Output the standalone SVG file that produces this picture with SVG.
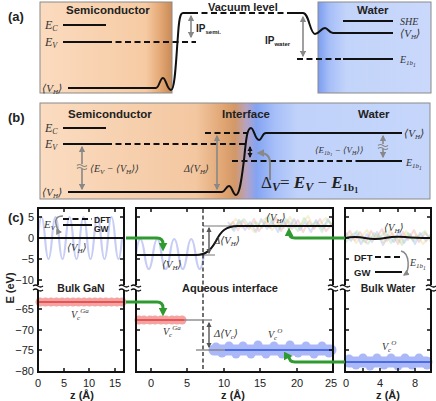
<svg xmlns="http://www.w3.org/2000/svg" width="436" height="401" viewBox="0 0 436 401">
<defs>
<style>
.t{font-family:"Liberation Sans",Arial,sans-serif;font-weight:bold;fill:#222}
.m{font-family:"Liberation Serif","DejaVu Serif",serif;font-style:italic;fill:#333}
.n{font-family:"Liberation Sans",Arial,sans-serif;font-size:11px;fill:#222}
.lv{stroke:#111;stroke-width:2;fill:none}
.ds{stroke:#111;stroke-width:2;fill:none;stroke-dasharray:6,3.5}
.ga{stroke:#888;stroke-width:1.6;fill:none;marker-start:url(#ag);marker-end:url(#ag)}
.fr{stroke:#111;stroke-width:2;fill:none}
.tk{stroke:#111;stroke-width:1.5;fill:none}
.gr{stroke:#2f9a2f;stroke-width:3;fill:none;marker-end:url(#agr)}
.rc{fill:#f4a3a3}
.bc{fill:#aab8f7}
.nz{fill:none;stroke-width:2;stroke-linejoin:round;opacity:0.4}
</style>
<linearGradient id="gSemi" x1="0" x2="1" y1="0" y2="0">
<stop offset="0" stop-color="#fbdbbf"/><stop offset="0.8" stop-color="#f6cba4"/><stop offset="0.9" stop-color="#e6ac79"/><stop offset="1" stop-color="#c88a56"/>
</linearGradient>
<linearGradient id="gWater" x1="0" x2="1" y1="0" y2="0">
<stop offset="0" stop-color="#7b9cf0"/><stop offset="0.1" stop-color="#a6bef8"/><stop offset="0.25" stop-color="#c3d4fa"/><stop offset="1" stop-color="#c9d8fb"/>
</linearGradient>
<linearGradient id="gB" x1="0" x2="1" y1="0" y2="0">
<stop offset="0" stop-color="#fbdcc1"/><stop offset="0.4" stop-color="#f3c7a0"/><stop offset="0.47" stop-color="#e0a573"/><stop offset="0.5" stop-color="#d39867"/><stop offset="0.53" stop-color="#b5a3c4"/><stop offset="0.555" stop-color="#84a4f3"/><stop offset="0.6" stop-color="#a6bef8"/><stop offset="0.66" stop-color="#c0d2fa"/><stop offset="1" stop-color="#c6d6fb"/>
</linearGradient>
<marker id="ag" viewBox="0 0 10 10" refX="8" refY="5" markerWidth="4" markerHeight="4" orient="auto-start-reverse"><path d="M0,0 L10,5 L0,10 z" fill="#888"/></marker>
<marker id="ad" viewBox="0 0 10 10" refX="8" refY="5" markerWidth="4" markerHeight="4" orient="auto-start-reverse"><path d="M0,0 L10,5 L0,10 z" fill="#555"/></marker>
<marker id="ak" viewBox="0 0 10 10" refX="8" refY="5" markerWidth="3.5" markerHeight="3.5" orient="auto-start-reverse"><path d="M0,0 L10,5 L0,10 z" fill="#111"/></marker>
<marker id="agr" viewBox="0 0 10 10" refX="6" refY="5" markerWidth="3" markerHeight="3" orient="auto"><path d="M0,0 L10,5 L0,10 z" fill="#2f9a2f"/></marker>
</defs>
<rect width="436" height="401" fill="#fff"/>

<!-- Panel (a) -->
<g id="panel-a">
<text class="t" x="8" y="21" font-size="13">(a)</text>
<rect x="40" y="2" width="132" height="91" fill="url(#gSemi)" stroke="#8a8a8a" stroke-width="1"/>
<rect x="318" y="2" width="113" height="91" fill="url(#gWater)" stroke="#8a8a8a" stroke-width="1"/>
<text class="t" x="66" y="14" font-size="11.5">Semiconductor</text>
<text class="t" x="357" y="14" font-size="11.5">Water</text>
<text class="t" x="208" y="11" font-size="11">Vacuum level</text>
<path class="lv" d="M63,25 H106"/>
<path class="lv" d="M63,42 H106"/>
<path class="ds" d="M106,42 H196"/>
<text class="m" x="45" y="29" font-size="12">E<tspan font-size="8" dy="2">C</tspan></text>
<text class="m" x="45" y="46" font-size="12">E<tspan font-size="8" dy="2">V</tspan></text>
<text class="m" x="42" y="92" font-size="11">⟨V<tspan font-size="7" dy="2">H</tspan><tspan dy="-2">⟩</tspan></text>
<path class="lv" d="M68,88 L156,88 C159,88 160,78 163,78 C166,78 167,90 171,90 C175,90 176,60 178,35 C179,20 180,13 183,13 L192,13"/>
<path class="ds" d="M192,13 H287"/>
<path class="lv" d="M287,13 L303,13 C309,13 310,34 315,34 C319,34 321,28 325,28 C328,28 329,33 333,33 L393,33"/>
<path class="ga" d="M191,16 V37"/>
<text class="t" x="196" y="32" font-size="10">IP<tspan font-size="6" dy="2">semi.</tspan></text>
<path class="ga" d="M303,17 V56"/>
<text class="t" x="265" y="44" font-size="10">IP<tspan font-size="6" dy="2">water</tspan></text>
<path class="lv" d="M343,21 H393"/>
<text class="m" x="400" y="25" font-size="10">SHE</text>
<text class="m" x="400" y="37" font-size="11">⟨V<tspan font-size="7" dy="2">H</tspan><tspan dy="-2">⟩</tspan></text>
<path class="ds" d="M297,59 H343"/>
<path class="lv" d="M343,59 H393"/>
<text class="m" x="400" y="63" font-size="10">E<tspan font-size="7" dy="2">1b</tspan><tspan font-size="5.5" dy="1.5">1</tspan></text>
</g>

<!-- Panel (b) -->
<g id="panel-b">
<text class="t" x="8" y="122" font-size="13">(b)</text>
<rect x="40" y="103" width="390" height="96" fill="url(#gB)" stroke="#8a8a8a" stroke-width="1"/>
<text class="t" x="68" y="118" font-size="11.5">Semiconductor</text>
<text class="t" x="222" y="118" font-size="11.5">Interface</text>
<text class="t" x="358" y="118" font-size="11.5">Water</text>
<path class="lv" d="M63,128 H106"/>
<path class="lv" d="M63,144 H106"/>
<path class="ds" d="M106,144 H246"/>
<path class="ds" d="M205,133 H247"/>
<text class="m" x="45" y="132" font-size="12">E<tspan font-size="8" dy="2">C</tspan></text>
<text class="m" x="45" y="148" font-size="12">E<tspan font-size="8" dy="2">V</tspan></text>
<text class="m" x="42" y="196" font-size="11">⟨V<tspan font-size="7" dy="2">H</tspan><tspan dy="-2">⟩</tspan></text>
<path class="lv" d="M68,192 L222,192 C225,192 226,186 229,186 C232,186 233,195 236,195 C240,195 242,175 244,160 C246,140 247,128 251,128 C254,128 255,140 259,140 C262,140 262,133 266,133 L402,133"/>
<text class="m" x="404" y="137" font-size="11">⟨V<tspan font-size="7" dy="2">H</tspan><tspan dy="-2">⟩</tspan></text>
<path class="ds" d="M232,161 H356"/>
<path class="lv" d="M356,161 H402"/>
<text class="m" x="406" y="166" font-size="10">E<tspan font-size="7" dy="2">1b</tspan><tspan font-size="5.5" dy="1.5">1</tspan></text>
<path class="ga" d="M82,147 V189"/>
<rect x="76" y="164" width="12" height="5" fill="#f8d3b2"/>
<path d="M77,165.5 q2.5,-2 5,0 t5,0 M77,168.5 q2.5,-2 5,0 t5,0" stroke="#888" stroke-width="1.2" fill="none"/>
<text class="m" x="90" y="172" font-size="10">⟨E<tspan font-size="7" dy="2">V</tspan><tspan dy="-2"> − ⟨V</tspan><tspan font-size="7" dy="2">H</tspan><tspan dy="-2">⟩⟩</tspan></text>
<path class="ga" d="M217,136 V189"/>
<text class="m" x="184" y="172" font-size="10">Δ⟨V<tspan font-size="7" dy="2">H</tspan><tspan dy="-2">⟩</tspan></text>
<path class="ga" d="M383,136 V157"/>
<rect x="377" y="144" width="12" height="5" fill="#c5d6fa"/>
<path d="M378,145.5 q2.5,-2 5,0 t5,0 M378,148.5 q2.5,-2 5,0 t5,0" stroke="#888" stroke-width="1.2" fill="none"/>
<text class="m" x="315" y="153" font-size="9">⟨E<tspan font-size="6" dy="2">1b</tspan><tspan font-size="5" dy="1">1</tspan><tspan dy="-3"> − ⟨V</tspan><tspan font-size="6" dy="2">H</tspan><tspan dy="-2">⟩⟩</tspan></text>
<path d="M250,147 V157" stroke="#111" stroke-width="1.5" fill="none" marker-start="url(#ak)" marker-end="url(#ak)"/>
<path d="M270,180 V163 Q270,153 260,153 L258,153" stroke="#888" stroke-width="2" fill="none" marker-end="url(#ag)"/>
<text x="261" y="188" font-size="17" style="font-family:'Liberation Serif','DejaVu Serif',serif;fill:#222">Δ<tspan font-size="12" dy="3" font-style="italic" font-weight="bold">V</tspan><tspan dy="-3">= </tspan><tspan font-style="italic" font-weight="bold">E</tspan><tspan font-size="12" dy="3" font-style="italic" font-weight="bold">V</tspan><tspan dy="-3"> − </tspan><tspan font-style="italic" font-weight="bold">E</tspan><tspan font-size="11" dy="3" font-weight="bold">1b</tspan><tspan font-size="8" dy="2" font-weight="bold">1</tspan></text>
</g>

<!-- Panel (c) -->
<g id="panel-c">
<text class="t" x="8" y="222" font-size="13">(c)</text>
<text class="t" transform="translate(14,288) rotate(-90)" text-anchor="middle" font-size="11">E (eV)</text>

<g id="plot-bulk-gan">
<path d="M38,238 Q41.5,196 45,238 T52,238 T59,238 T66,238 T73,238 T80,238 T87,238 T94,238 T101,238 T108,238 T115,238 T122,238" stroke="#b9c0f2" stroke-width="2.2" fill="none" opacity="0.8"/>
<path class="lv" d="M38,238 H124"/>
<path class="ds" d="M63,219 H92" stroke-width="1.8" stroke-dasharray="5,3"/>
<path class="lv" d="M63,225 H92" stroke-width="1.8"/>
<text class="t" x="94" y="222.5" font-size="8.5">DFT</text>
<text class="t" x="94" y="232" font-size="8.5">GW</text>
<text class="m" x="44" y="228" font-size="11">E<tspan font-size="7" dy="2">V</tspan></text>
<path d="M63,216 C56,216 55,220 56,224 C57,229 59,232 61,232" stroke="#888" stroke-width="1.5" fill="none" marker-end="url(#ag)"/>
<text class="m" x="67" y="251" font-size="10.5">⟨V<tspan font-size="7" dy="2">H</tspan><tspan dy="-2">⟩</tspan></text>
<text class="t" x="81" y="292" font-size="10.5" text-anchor="middle">Bulk GaN</text>
<g class="rc"><circle cx="40" cy="302" r="4.5"/><circle cx="45.5" cy="302" r="4.5"/><circle cx="51" cy="302" r="4.5"/><circle cx="56.5" cy="302" r="4.5"/><circle cx="62" cy="302" r="4.5"/><circle cx="67.5" cy="302" r="4.5"/><circle cx="73" cy="302" r="4.5"/><circle cx="78.5" cy="302" r="4.5"/><circle cx="84" cy="302" r="4.5"/><circle cx="89.5" cy="302" r="4.5"/><circle cx="95" cy="302" r="4.5"/><circle cx="100.5" cy="302" r="4.5"/><circle cx="106" cy="302" r="4.5"/><circle cx="111.5" cy="302" r="4.5"/><circle cx="117" cy="302" r="4.5"/><circle cx="122" cy="302" r="4.5"/></g>
<path d="M38,302 H124" stroke="#e23a3a" stroke-width="1.5"/>
<text class="m" x="71" y="318" font-size="10">V<tspan font-size="7" dy="2">c</tspan><tspan font-size="7" dy="-7">Ga</tspan></text>
</g>

<g id="plot-aqueous-interface">
<path d="M136,254 Q140.25,224 144.5,254 T153,254 T161.5,254 T170,254 T178.5,254 T187,254 T195.5,254 T204,254" stroke="#b9c0f2" stroke-width="2.2" fill="none" opacity="0.8"/>
<polyline class="nz" stroke="#f0a0a0" points="228,228 233,222 238,230 243,221 249,229 254,219 259,231 265,222 270,228 276,218 281,231 287,221 292,229 298,220 303,232 309,221 314,229 320,219 326,231 333,223"/>
<polyline class="nz" stroke="#9fb2f2" points="228,222 234,231 239,220 245,230 250,222 256,232 261,219 267,229 272,221 278,232 283,220 289,229 294,219 300,230 305,222 311,232 316,220 322,229 328,219 333,228"/>
<polyline class="nz" stroke="#e8d890" points="230,225 236,219 242,228 248,224 254,232 260,223 266,218 272,230 278,222 284,228 290,217 296,227 302,224 308,216 314,228 320,224 326,218 333,227"/>
<polyline class="nz" stroke="#a8dca8" points="232,230 238,224 244,219 250,227 256,222 262,228 268,216 274,225 280,229 286,219 292,224 298,231 304,218 310,226 316,222 322,232 328,221 333,225"/>
<path d="M197,255 H215 M203,226 H240" stroke="#777" stroke-width="1"/>
<path class="lv" d="M136,255 L196,255 C206,255 211,250 216,241 C221,231 226,226 238,226 L333,226"/>
<path d="M203,209 V371" stroke="#111" stroke-width="1.2" stroke-dasharray="4,2.5"/>
<path d="M209,228 V253" stroke="#555" stroke-width="1.4" marker-start="url(#ad)" marker-end="url(#ad)"/>
<text class="m" x="214" y="244" font-size="10.5">Δ⟨V<tspan font-size="7" dy="2">H</tspan><tspan dy="-2">⟩</tspan></text>
<text class="m" x="162" y="268" font-size="10.5">⟨V<tspan font-size="7" dy="2">H</tspan><tspan dy="-2">⟩</tspan></text>
<text class="m" x="266" y="221" font-size="10.5">⟨V<tspan font-size="7" dy="2">H</tspan><tspan dy="-2">⟩</tspan></text>
<text class="t" x="230" y="292" font-size="11" text-anchor="middle">Aqueous interface</text>
<g class="rc"><circle cx="139" cy="320" r="4.5"/><circle cx="144" cy="320" r="4.5"/><circle cx="150" cy="320" r="4.5"/><circle cx="155" cy="320" r="4.5"/><circle cx="161" cy="320" r="4.5"/><circle cx="166" cy="320" r="4.5"/><circle cx="172" cy="320" r="4.5"/><circle cx="177" cy="320" r="4.5"/><circle cx="182" cy="320" r="4.5"/></g>
<path d="M136,320 H184" stroke="#e23a3a" stroke-width="1.5"/>
<path d="M184,320 H212" stroke="#777" stroke-width="1.2"/>
<path d="M214,350 H331" stroke="#aab8f7" stroke-width="11" stroke-linecap="round"/>
<g class="bc"><circle cx="216" cy="347" r="4.5"/><circle cx="222" cy="353" r="4.5"/><circle cx="229" cy="346" r="4.5"/><circle cx="236" cy="354" r="4.5"/><circle cx="243" cy="346" r="4.5"/><circle cx="251" cy="354" r="4.5"/><circle cx="258" cy="345" r="4.5"/><circle cx="266" cy="354" r="4.5"/><circle cx="274" cy="346" r="4.5"/><circle cx="282" cy="354" r="4.5"/><circle cx="290" cy="345" r="4.5"/><circle cx="298" cy="353" r="4.5"/><circle cx="306" cy="346" r="4.5"/><circle cx="314" cy="354" r="4.5"/><circle cx="322" cy="346" r="4.5"/><circle cx="329" cy="353" r="4.5"/></g>
<path d="M196,350 H225" stroke="#777" stroke-width="1.2"/>
<path d="M225,350 H333" stroke="#2a55e0" stroke-width="1.5"/>
<path d="M209,323 V347" stroke="#555" stroke-width="1.4" marker-start="url(#ad)" marker-end="url(#ad)"/>
<text class="m" x="214" y="337" font-size="10.5">Δ⟨V<tspan font-size="7" dy="2">c</tspan><tspan dy="-2">⟩</tspan></text>
<text class="m" x="163" y="335" font-size="10">V<tspan font-size="7" dy="2">c</tspan><tspan font-size="7" dy="-7">Ga</tspan></text>
<text class="m" x="268" y="338" font-size="10">V<tspan font-size="7" dy="2">c</tspan><tspan font-size="7" dy="-7">O</tspan></text>
</g>

<g id="plot-bulk-water">
<polyline class="nz" stroke="#f0a0a0" points="345,236 350,231 355,240 360,232 366,242 371,231 376,239 382,229 387,241 392,233 398,244 403,232 408,240 414,230 419,242 425,233 431,239"/>
<polyline class="nz" stroke="#9fb2f2" points="345,232 351,241 356,233 361,244 367,234 372,242 377,232 383,245 388,235 394,242 399,231 404,243 410,234 415,244 420,233 426,241 431,234"/>
<polyline class="nz" stroke="#e8d890" points="345,240 350,234 356,243 362,236 367,230 373,240 379,235 384,243 390,230 395,238 401,242 406,231 412,239 417,235 423,244 431,236"/>
<polyline class="nz" stroke="#a8dca8" points="345,243 351,236 357,231 362,240 368,244 374,233 379,238 385,232 391,243 396,236 402,245 408,233 413,241 419,236 425,231 431,242"/>
<path class="lv" d="M345,238 Q355,236 365,238 T385,238 T405,237 T431,238"/>
<text class="m" x="384" y="231" font-size="10.5">⟨V<tspan font-size="7" dy="2">H</tspan><tspan dy="-2">⟩</tspan></text>
<text class="t" x="354" y="261" font-size="9.5">DFT</text>
<text class="t" x="354" y="276" font-size="9.5">GW</text>
<path class="ds" d="M375,257 H402" stroke-width="1.8" stroke-dasharray="5,3"/>
<path class="lv" d="M375,272 H402" stroke-width="1.8"/>
<path d="M401,251 C410,253 410,271 404,275" stroke="#888" stroke-width="1.5" fill="none" marker-end="url(#ag)"/>
<text class="m" x="410" y="266" font-size="10">E<tspan font-size="7" dy="2">1b</tspan><tspan font-size="5.5" dy="1.5">1</tspan></text>
<text class="t" x="388" y="292" font-size="10.5" text-anchor="middle">Bulk Water</text>
<path d="M349,362 H427" stroke="#aab8f7" stroke-width="11" stroke-linecap="round"/>
<g class="bc"><circle cx="349" cy="359" r="4.5"/><circle cx="356" cy="365" r="4.5"/><circle cx="363" cy="358" r="4.5"/><circle cx="370" cy="366" r="4.5"/><circle cx="377" cy="358" r="4.5"/><circle cx="384" cy="365" r="4.5"/><circle cx="391" cy="358" r="4.5"/><circle cx="398" cy="366" r="4.5"/><circle cx="405" cy="358" r="4.5"/><circle cx="412" cy="365" r="4.5"/><circle cx="419" cy="358" r="4.5"/><circle cx="427" cy="365" r="4.5"/></g>
<path d="M345,362 H431" stroke="#2a55e0" stroke-width="1.5"/>
<text class="m" x="382" y="350" font-size="10">V<tspan font-size="7" dy="2">c</tspan><tspan font-size="7" dy="-7">O</tspan></text>
</g>

<g id="axes">
<rect class="fr" x="38" y="208" width="86" height="164"/>
<rect class="fr" x="136" y="208" width="197" height="164"/>
<rect class="fr" x="345" y="208" width="86" height="164"/>
<path class="tk" d="M38,217h4M38,238h4M38,259h4M38,280h4M38,309h4M38,330h4M38,350h4 M124,217h-4M124,238h-4M124,259h-4M124,280h-4M124,309h-4M124,330h-4M124,350h-4 M64,372v-4M89,372v-4M115,372v-4 M64,208v4M89,208v4M115,208v4"/>
<path class="tk" d="M136,217h4M136,238h4M136,259h4M136,280h4M136,309h4M136,330h4M136,350h4 M333,217h-4M333,238h-4M333,259h-4M333,280h-4M333,309h-4M333,330h-4M333,350h-4 M151,372v-4M187,372v-4M224,372v-4M260,372v-4M297,372v-4 M151,208v4M187,208v4M224,208v4M260,208v4M297,208v4"/>
<path class="tk" d="M345,217h4M345,238h4M345,259h4M345,280h4M345,309h4M345,330h4M345,350h4 M431,217h-4M431,238h-4M431,259h-4M431,280h-4M431,309h-4M431,330h-4M431,350h-4 M363,372v-4M380,372v-4M398,372v-4M415,372v-4 M363,208v4M380,208v4M398,208v4M415,208v4"/>
<g fill="#fff">
<rect x="33" y="285" width="10" height="5"/><rect x="119" y="285" width="10" height="5"/><rect x="131" y="285" width="10" height="5"/><rect x="328" y="285" width="10" height="5"/><rect x="340" y="285" width="10" height="5"/><rect x="426" y="285" width="10" height="5"/>
</g>
<g stroke="#111" stroke-width="1.3" fill="none">
<path d="M33,286 q2.5,-2 5,0 t5,0 M33,290 q2.5,-2 5,0 t5,0"/>
<path d="M119,286 q2.5,-2 5,0 t5,0 M119,290 q2.5,-2 5,0 t5,0"/>
<path d="M131,286 q2.5,-2 5,0 t5,0 M131,290 q2.5,-2 5,0 t5,0"/>
<path d="M328,286 q2.5,-2 5,0 t5,0 M328,290 q2.5,-2 5,0 t5,0"/>
<path d="M340,286 q2.5,-2 5,0 t5,0 M340,290 q2.5,-2 5,0 t5,0"/>
<path d="M426,286 q2.5,-2 5,0 t5,0 M426,290 q2.5,-2 5,0 t5,0"/>
</g>
<g class="n" text-anchor="end">
<text x="34" y="221">5</text><text x="34" y="242">0</text><text x="34" y="263">−5</text><text x="34" y="284">−10</text>
<text x="34" y="313">−65</text><text x="34" y="334">−70</text><text x="34" y="354">−75</text><text x="34" y="375">−80</text>
</g>
<g class="n" text-anchor="middle">
<text x="38" y="387">0</text><text x="64" y="387">5</text><text x="89" y="387">10</text><text x="115" y="387">15</text>
<text x="151" y="387">0</text><text x="187" y="387">5</text><text x="224" y="387">10</text><text x="260" y="387">15</text><text x="297" y="387">20</text><text x="331" y="387">25</text>
<text x="346" y="387">0</text><text x="380" y="387">4</text><text x="415" y="387">8</text>
</g>
<text class="t" x="82" y="399" font-size="11" text-anchor="middle">z (Å)</text>
<text class="t" x="233" y="399" font-size="11" text-anchor="middle">z (Å)</text>
<text class="t" x="388" y="399" font-size="11" text-anchor="middle">z (Å)</text>
</g>

<g id="connectors">
<path class="gr" d="M126,238 H157 Q163,238 163,244 V248"/>
<path class="gr" d="M126,302 H157 Q163,302 163,308 V313"/>
<path class="gr" d="M345,238 H295 Q289,238 289,232 V231"/>
<path class="gr" d="M345,362 H295 Q289,362 289,356 V356"/>
</g>
</g>
</svg>
